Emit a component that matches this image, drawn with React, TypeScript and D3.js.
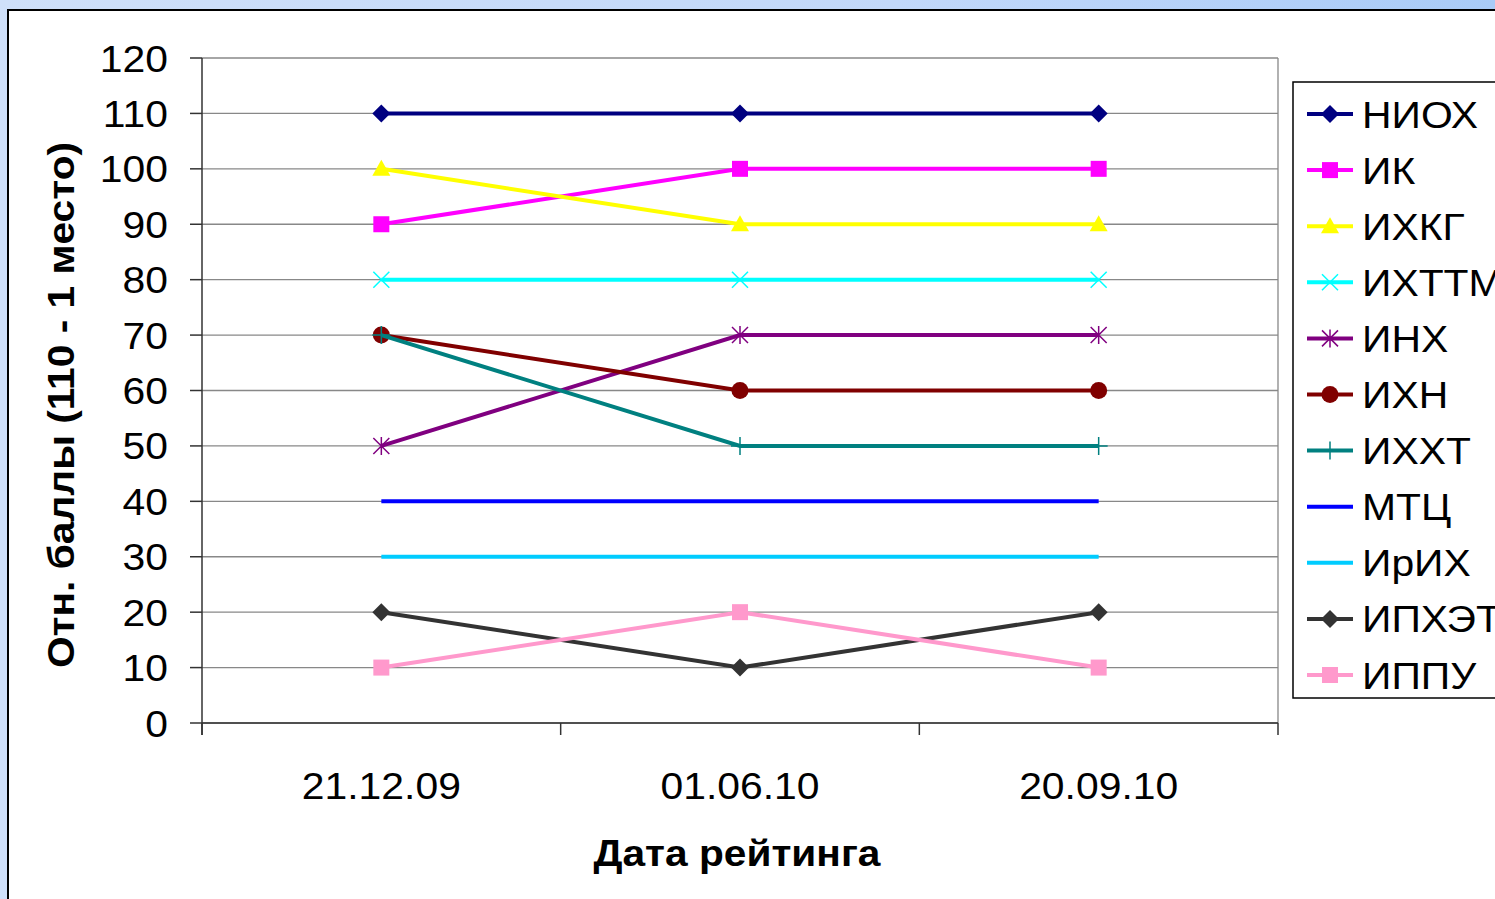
import React from "react";
import * as d3 from "d3";

const dates = ["21.12.09", "01.06.10", "20.09.10"];
const yTicks = [0, 10, 20, 30, 40, 50, 60, 70, 80, 90, 100, 110, 120];

const seriesNames = ["НИОХ", "ИК", "ИХКГ", "ИХТТМ", "ИНХ", "ИХН", "ИХХТ", "МТЦ", "ИрИХ", "ИПХЭТ", "ИППУ"];
const niokh = [110, 110, 110];
const ik = [90, 100, 100];
const ikhkg = [100, 90, 90];
const ikhttm = [80, 80, 80];
const inkh = [50, 70, 70];
const ikhn = [70, 60, 60];
const ikhkht = [70, 50, 50];
const mtc = [40, 40, 40];
const irikh = [30, 30, 30];
const ipkhet = [20, 10, 20];
const ippu = [10, 20, 10];

const seriesValues = [niokh, ik, ikhkg, ikhttm, inkh, ikhn, ikhkht, mtc, irikh, ipkhet, ippu];
const seriesColors = ["#000080", "#FF00FF", "#FFFF00", "#00FFFF", "#800080", "#800000", "#008080", "#0000FF", "#00CCFF", "#333333", "#FF99CC"];
const seriesMarkers = ["diamond", "square", "triangle", "x", "star", "circle", "plus", "none", "none", "diamond", "square"];

const W = 1495;
const H = 899;
const left = 202, right = 1278, top = 58, bottom = 723;
const font = "'Liberation Sans', Arial, sans-serif";

// Text drawn with a slight horizontal stretch, like the wide chart fonts
function Label({
  x, y, children, size = 37.5, sx = 1.09, anchor = "start", bold = false, rotate = 0, dy = "0",
}: {
  x: number; y: number; children: React.ReactNode; size?: number; sx?: number;
  anchor?: string; bold?: boolean; rotate?: number; dy?: string;
}) {
  return (
    <text
      transform={`translate(${x},${y}) rotate(${rotate}) scale(${sx},1)`}
      textAnchor={anchor as any}
      fontSize={size}
      fontWeight={bold ? "bold" : "normal"}
      dy={dy}
      fill="#000"
    >
      {children}
    </text>
  );
}

function Marker({ kind, x, y, color }: { kind: string; x: number; y: number; color: string }) {
  switch (kind) {
    case "diamond":
      return <path d={`M${x},${y - 9}L${x + 9},${y}L${x},${y + 9}L${x - 9},${y}Z`} fill={color} />;
    case "square":
      return <rect x={x - 8} y={y - 8} width={16} height={16} fill={color} />;
    case "triangle":
      return <path d={`M${x},${y - 9}L${x + 9},${y + 7}L${x - 9},${y + 7}Z`} fill={color} />;
    case "x":
      return <path d={`M${x - 8},${y - 8}L${x + 8},${y + 8}M${x + 8},${y - 8}L${x - 8},${y + 8}`} stroke={color} strokeWidth={1.5} />;
    case "star":
      return (
        <path
          d={`M${x - 8},${y - 8}L${x + 8},${y + 8}M${x + 8},${y - 8}L${x - 8},${y + 8}M${x},${y - 9}L${x},${y + 9}`}
          stroke={color}
          strokeWidth={1.5}
        />
      );
    case "circle":
      return <circle cx={x} cy={y} r={8.5} fill={color} />;
    case "plus":
      return <path d={`M${x - 9},${y}L${x + 9},${y}M${x},${y - 9}L${x},${y + 9}`} stroke={color} strokeWidth={1.5} />;
    default:
      return null;
  }
}

export default function App() {
  const x = d3.scaleBand<string>().domain(dates).range([left, right]);
  const y = d3.scaleLinear().domain([0, 120]).range([bottom, top]);
  const cx = (d: string) => (x(d) as number) + x.bandwidth() / 2;
  const line = d3
    .line<number>()
    .x((_, i) => cx(dates[i]))
    .y((v) => y(v));
  const tickX = [...dates.map((d) => x(d) as number), right];

  const legendX = 1293, legendY = 82, legendStep = 56.1;

  return (
    <svg width={W} height={H} style={{ position: "absolute", left: 0, top: 0 }} fontFamily={font}>
      <defs>
        <linearGradient id="bg" x1="0" x2="1" y1="0" y2="0">
          <stop offset="0" stopColor="#cfe0fa" />
          <stop offset="0.6" stopColor="#c2d8fa" />
          <stop offset="1" stopColor="#a9cbf7" />
        </linearGradient>
      </defs>
      <rect x={0} y={0} width={W} height={H} fill="url(#bg)" />
      <rect x={8} y={10} width={W + 10} height={H + 10} fill="#fff" stroke="#000" strokeWidth={2} />

      {/* grid */}
      {yTicks.map((t) => (
        <line key={t} x1={left} x2={right} y1={y(t)} y2={y(t)} stroke="#888" strokeWidth={1.3} />
      ))}
      <line x1={right} x2={right} y1={top} y2={bottom} stroke="#888" strokeWidth={1.3} />

      {/* axes */}
      <line x1={left} x2={left} y1={top} y2={bottom + 12} stroke="#333" strokeWidth={1.5} />
      <line x1={left} x2={right} y1={bottom} y2={bottom} stroke="#333" strokeWidth={1.5} />
      {yTicks.map((t) => (
        <g key={"yt" + t}>
          <line x1={left - 12} x2={left} y1={y(t)} y2={y(t)} stroke="#333" strokeWidth={1.5} />
          <Label x={168} y={y(t)} dy="0.36em" anchor="end">
            {t}
          </Label>
        </g>
      ))}
      {tickX.map((tx, i) => (
        <line key={"xt" + i} x1={tx} x2={tx} y1={bottom} y2={bottom + 12} stroke="#333" strokeWidth={1.5} />
      ))}
      {dates.map((d) => (
        <Label key={d} x={cx(d)} y={799} anchor="middle">
          {d}
        </Label>
      ))}

      <Label x={737} y={866} anchor="middle" bold size={36} sx={1.13}>
        Дата рейтинга
      </Label>
      <Label x={74} y={405} anchor="middle" bold size={37} sx={1.1} rotate={-90}>
        Отн. баллы (110 - 1 место)
      </Label>

      {/* series */}
      {seriesValues.map((vals, s) => (
        <g key={seriesNames[s]}>
          <path d={line(vals) as string} fill="none" stroke={seriesColors[s]} strokeWidth={4} />
          {vals.map((v, i) => (
            <Marker key={i} kind={seriesMarkers[s]} x={cx(dates[i])} y={y(v)} color={seriesColors[s]} />
          ))}
        </g>
      ))}

      {/* legend */}
      <rect x={legendX} y={legendY} width={W} height={616} fill="#fff" stroke="#000" strokeWidth={1.5} />
      {seriesNames.map((n, s) => {
        const ly = 114 + s * legendStep;
        return (
          <g key={"lg" + n}>
            <line x1={1307} x2={1353} y1={ly} y2={ly} stroke={seriesColors[s]} strokeWidth={4} />
            <Marker kind={seriesMarkers[s]} x={1330} y={ly} color={seriesColors[s]} />
            <Label x={1362} y={ly} dy="0.36em">
              {n}
            </Label>
          </g>
        );
      })}
    </svg>
  );
}
